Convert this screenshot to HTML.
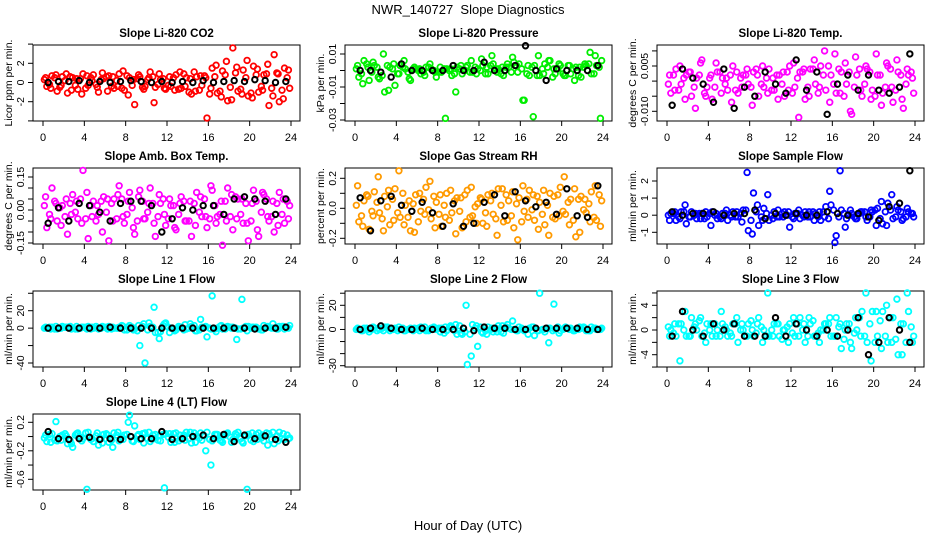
<!DOCTYPE html>
<html><head><meta charset="utf-8">
<style>
html,body{margin:0;padding:0;background:#fff;}
svg{display:block;font-family:"Liberation Sans",Arial,sans-serif;}
</style></head>
<body>
<svg id="chart" width="936" height="540" viewBox="0 0 936 540" xmlns="http://www.w3.org/2000/svg">
<rect x="0" y="0" width="936" height="540" fill="#fff"/>
<text x="468" y="14" text-anchor="middle" font-size="13">NWR_140727&#160; Slope Diagnostics</text>
<text x="468" y="530" text-anchor="middle" font-size="13">Hour of Day (UTC)</text>
</svg>
<script>
// ---- shared x data (hours) ----
const hoursA = [0.25,0.75,1.25,1.75,2.25,2.75,3.25,3.75,4.25,4.75,5.25,5.75,6.25,6.75,7.25,7.75,8.25,8.75,9.25,9.75,10.25,10.75,11.25,11.75,12.25,12.75,13.25,13.75,14.25,14.75,15.25,15.75,16.25,16.75,17.25,17.75,18.25,18.75,19.25,19.75,20.25,20.75,21.25,21.75,22.25,22.75,23.25,23.75];
const hoursB = [0.5,1.5,2.5,3.5,4.5,5.5,6.5,7.5,8.5,9.5,10.5,11.5,12.5,13.5,14.5,15.5,16.5,17.5,18.5,19.5,20.5,21.5,22.5,23.5];
const xTicks = [0,4,8,12,16,20,24];

// ---- panel 1: CO2 ----
const co2A = [0.5,-0.6,0.8,-0.3,0.9,-0.8,0.4,-1.2,0.7,0.2,-0.5,1.0,-0.9,0.6,-0.4,1.2,-1.3,0.3,0.8,-0.7,0.5,-2.1,0.9,-0.6,0.6,-0.8,1.1,-0.4,0.4,-0.9,0.7,0.5,-0.6,1.8,-1.5,2.2,-1.8,1.6,-1.2,2.3,-1.6,1.4,-0.8,1.9,-1.4,0.9,-1.7,1.3];
const co2B = [-0.4,0.7,-0.9,0.6,-1.1,0.5,-0.7,0.9,-0.3,0.8,-1.0,0.4,0.7,-0.6,0.9,-0.8,0.5,-2.3,0.6,-0.4,1.1,-0.5,0.3,-0.7,-0.4,0.8,-0.6,0.5,-1.2,0.6,-0.3,-3.7,1.5,-1.1,1.2,-1.9,3.6,-0.9,1.3,-1.4,1.7,-1.0,0.8,-2.4,2.9,-2.0,1.5,-0.6];
const co2C = [0.3,-0.2,0.5,-0.5,0.2,0.6,-0.3,0.4,-0.6,0.5,-0.2,0.3,0.6,-0.4,0.2,-0.6,0.7,-0.3,0.4,-0.5,0.3,0.6,-0.2,0.4,-0.3,0.5,-0.7,0.9,-1.0,1.1,-0.8,0.7,-1.2,0.6,-0.9,0.8,-0.5,1.0,-0.7,0.5,-1.1,0.8,-0.4,0.9,-0.6,1.0,-0.8,0.5];
const co2Black = [0,0.1,0.1,0.2,0,0.1,0,0.1,0.2,0.1,0,0.1,0,0.1,0,0.2,0,0.1,0.2,0.1,0.3,0.2,0,0.1];
// ---- panel 2: pressure ----
const presA = [0.003,-0.008,0.002,0.005,-0.004,0.010,-0.012,0.004,-0.002,0.006,-0.005,0.002,0.001,-0.003,0.004,-0.001,0.002,-0.029,0.001,-0.013,0.003,0.002,0.006,-0.002,0.007,0.002,0.009,-0.001,0.002,0.004,0.008,-0.001,-0.018,0.003,-0.028,0.009,-0.002,0.006,0.001,0.004,-0.003,0.003,-0.006,0.002,0.004,0.011,0.009,-0.029];
const presB = [-0.004,0.006,-0.006,0.003,-0.005,-0.013,0.002,-0.009,0.003,0.001,-0.006,0.001,-0.002,0.002,0.001,-0.004,-0.001,0.001,-0.003,0.002,-0.002,0.003,-0.001,0.001,0.003,-0.002,0.004,0.001,-0.003,0.002,0.005,0.004,-0.018,-0.003,0.003,-0.003,0.004,0.006,-0.002,0.003,-0.003,-0.002,0.002,-0.004,0.003,-0.002,0.003,0.006];
const presC = [0.001,-0.002,0.004,-0.001,0.002,-0.003,0.003,0.001,-0.002,0.002,-0.001,0.001,0,-0.001,0.002,0,-0.001,0.001,0,-0.002,0.001,0,-0.001,0.002,0,-0.002,0.003,0.001,-0.002,0.002,-0.001,0.003,0.001,-0.002,0.002,-0.003,0.001,0.002,-0.004,0.001,-0.002,0.003,0.001,-0.003,0.002,0.004,-0.002,0.002];
const presBlack = [0,0,-0.001,-0.004,0.004,0,0,0,0,0.003,0,0,0.005,0,0,0.003,0.015,0,-0.006,0.001,0,0,0,0.003];
// ---- panel 3: Li-820 temp ----
const tempA = [0.002,-0.003,0.005,-0.006,0.003,-0.009,0.006,-0.005,0.002,0.006,-0.004,0.001,-0.007,0.003,-0.002,0.004,-0.008,0.002,0.005,-0.004,0.001,-0.006,0.003,-0.003,0.006,-0.012,0.004,-0.005,0.007,-0.002,0.010,-0.007,0.009,-0.004,0.006,-0.010,0.008,-0.003,0.005,-0.006,0.009,-0.008,0.006,-0.002,0.007,-0.006,0.004,0.001];
const tempB = [-0.004,0.004,-0.001,0.002,-0.005,0.001,0.007,-0.002,-0.006,0.003,0.001,-0.003,0.005,-0.004,0.002,-0.001,0.003,-0.005,-0.002,0.004,-0.003,0.002,-0.005,0.005,-0.002,0.003,-0.006,0.004,-0.001,0.005,-0.003,0.002,-0.004,0.003,-0.001,-0.011,0.002,-0.005,0.004,-0.003,0.002,-0.004,0.005,-0.007,0.003,-0.009,0.002,-0.004];
const tempC = [-0.001,0.002,-0.003,0.001,0.003,-0.002,0.002,-0.004,0.001,-0.002,0.003,-0.001,0.002,-0.003,0.001,0.002,-0.002,0.004,-0.001,0.001,-0.003,0.002,-0.001,0.003,-0.004,0.001,0.003,-0.002,0.004,-0.004,0.002,0.005,-0.001,0.004,-0.005,0.003,-0.002,0.004,-0.001,0.003,-0.005,0.002,-0.002,0.004,-0.003,0.002,-0.001,0.003];
const tempBlack = [-0.008,0.004,0.001,-0.001,-0.007,0.004,-0.009,-0.002,-0.005,0.003,-0.001,-0.004,0.007,-0.003,0.003,-0.011,-0.001,0.002,-0.003,0.002,-0.003,-0.004,-0.002,0.009];
// ---- panel 4: amb box temp ----
const boxA = [0.06,-0.04,0.03,-0.07,0.05,-0.02,0.04,-0.06,0.08,-0.03,0.02,-0.10,0.05,-0.05,0.07,-0.03,0.04,-0.08,0.06,-0.04,0.03,-0.06,0.07,-0.02,0.05,-0.08,0.03,-0.05,0.04,-0.07,0.06,-0.03,0.11,-0.06,0.04,-0.05,0.07,-0.04,0.05,-0.06,0.03,-0.09,0.08,-0.03,0.04,-0.07,0.05,-0.04];
const boxB = [-0.08,0.10,-0.05,0.02,-0.11,0.07,-0.04,0.18,-0.13,0.04,-0.02,0.06,-0.14,0.05,0.11,-0.06,0.08,-0.11,0.09,-0.04,0.10,-0.12,0.03,-0.07,0.02,-0.09,0.06,-0.05,-0.12,0.08,-0.03,-0.08,0.09,-0.03,-0.16,0.10,-0.09,0.05,-0.06,-0.14,0.09,-0.12,0.07,-0.05,-0.10,0.08,-0.06,0.02];
const boxC = [0.02,-0.02,0.04,0.01,-0.03,0.03,-0.01,0.05,-0.04,0.02,-0.05,0.04,-0.01,0.03,-0.04,0.05,-0.02,0.01,-0.05,0.04,-0.01,0.03,-0.03,0.05,-0.04,0.02,-0.02,0.04,-0.05,0.03,-0.01,0.05,-0.04,0.02,-0.02,0.04,-0.03,0.06,-0.02,0.03,-0.05,0.04,-0.01,0.05,-0.03,0.03,-0.02,0.04];
const boxBlack = [-0.06,0.01,-0.05,0.03,0.02,-0.01,-0.05,0.03,0.04,0.04,0.02,-0.10,-0.04,0.01,0,0.02,0.02,-0.02,0.05,0.06,0.05,0.04,-0.02,0.05];
// ---- panel 5: gas stream RH ----
const rhA = [0.15,-0.12,0.08,-0.05,0.21,-0.15,0.12,-0.08,0.25,-0.11,0.05,-0.16,0.10,-0.04,0.18,-0.13,0.09,-0.06,0.12,-0.17,0.07,-0.09,0.14,-0.10,0.06,-0.12,0.10,-0.18,0.13,-0.08,0.11,-0.21,0.15,-0.06,0.09,-0.14,0.12,-0.18,0.08,-0.05,0.21,-0.11,0.13,-0.16,0.06,-0.09,0.15,-0.12];
const rhB = [-0.09,0.05,-0.14,0.11,-0.03,0.08,-0.11,0.13,-0.06,0.02,-0.15,0.09,-0.02,0.14,-0.07,0.04,-0.12,0.10,-0.03,0.07,-0.13,0.12,-0.05,0.03,-0.10,0.09,-0.04,0.13,-0.09,0.05,-0.13,0.07,-0.02,0.12,-0.08,0.04,-0.11,0.10,-0.07,0.14,-0.04,0.06,-0.19,0.08,-0.03,0.11,-0.08,0.05];
const rhC = [0.02,-0.05,0.09,-0.02,0.04,-0.07,0.01,0.06,-0.03,0.10,-0.06,0.03,-0.09,0.06,-0.01,0.08,-0.04,0.02,-0.08,0.05,-0.02,0.09,-0.06,0.01,0.07,-0.03,0.05,-0.07,0.02,0.09,-0.05,0.03,-0.09,0.06,-0.01,0.08,-0.04,0.02,-0.06,0.09,-0.02,0.04,-0.08,0.06,-0.01,0.03,-0.06,0.09];
const rhBlack = [0.07,-0.15,0.05,0.08,0.02,-0.02,0.04,-0.03,-0.12,0.03,-0.12,-0.10,0.04,0.09,-0.05,0.11,0.05,0.01,0.04,-0.04,0.13,-0.05,-0.06,0.15];
// ---- panel 6: sample flow ----
const sfA = [-0.3,0.2,-0.2,0.6,-0.1,0.1,-0.2,0.2,-0.6,0.1,-0.2,0.3,-0.1,0.2,-0.4,2.5,-1.1,0.6,-0.3,1.2,-0.2,0.3,-0.1,0.2,-0.2,0.3,-0.1,0.2,-0.3,0.2,-0.1,1.4,-1.6,2.6,-0.7,0.3,-0.2,0.2,-0.1,0.3,-0.6,0.8,-0.6,1.2,0.5,-0.3,0.4,0.1];
const sfB = [0.1,-0.3,0.2,-0.5,0.2,-0.2,0.1,-0.1,0.2,-0.2,0.1,-0.3,0.2,-0.1,0.3,-0.9,1.3,-0.6,0.4,-0.3,0.2,-0.1,0.2,-0.7,0.1,-0.2,0.2,-0.1,0.1,-0.3,0.5,0.6,-1.2,0.3,-0.2,0.1,-0.2,0.2,-0.3,0.2,0.4,-0.5,0.7,-0.2,0.3,-0.2,0.2,-0.1];
const sfC = [0,0.1,-0.1,0.2,-0.1,0,0.1,-0.2,0.1,0,-0.1,0.1,0,-0.1,0.1,0.3,-0.3,0.2,-0.1,0.1,0,-0.1,0.1,0,-0.1,0.1,0,-0.1,0.2,-0.1,0.2,-0.2,0.3,-0.1,0.1,0,-0.1,0.1,0.2,-0.1,0.3,-0.2,0.2,0.3,-0.1,0.2,-0.1,0.1];
const sfBlack = [0.2,0,0.1,0.1,0.2,0,0.1,0.1,0.3,-0.2,0.1,0,0.1,0,0,0.2,0.1,0,0.1,-0.1,-0.3,0.5,0.7,2.6];
// ---- panel 7: line 1 flow ----
const l1A = [1,-1,2,0,1,-1,2,1,-1,1,0,2,-1,1,0,2,1,-2,3,5,6,24,-12,5,-5,-3,1,4,5,-3,10,2,-1,-4,3,1,0,-13,33,-3,1,0,-2,2,5,-1,2,0];
const l1B = [0,1,-1,2,1,0,-1,1,2,0,-1,1,2,0,1,-2,3,-1,-20,-40,2,-5,-4,6,0,-2,1,-1,2,-3,1,-10,37,0,-1,2,1,-1,0,2,1,-1,3,1,0,2,-1,3];
const l1C = [0,1,-1,0,1,2,-1,0,1,-1,2,0,1,-1,0,3,-2,1,-3,2,-2,1,-5,3,1,-1,2,-2,0,3,-2,1,0,-1,2,-1,1,0,-1,2,0,1,-2,1,0,-1,2,1];
const l1Black = [0,0,0,0,0,0,1,0,0,0,0,0,0,0,0,0,0,0,0,0,-1,0,0,1];
// ---- panel 8: line 2 flow ----
const l2A = [1,-1,0,2,1,-1,1,0,2,-1,0,1,-1,2,0,1,-2,2,3,4,-3,20,-22,3,-2,-4,1,-2,3,4,7,-1,0,-4,2,-1,0,-11,21,-3,1,0,-1,2,1,-1,1,0];
const l2B = [0,1,-2,1,0,2,-1,1,0,-1,1,0,2,-1,1,0,1,-1,2,-4,-4,-29,4,-14,-3,2,-2,3,-3,1,0,2,-1,1,-5,30,-2,1,0,-1,2,1,0,1,-1,2,0,1];
const l2C = [0,-1,1,0,-1,1,2,0,-1,1,0,-1,1,0,-1,2,1,-3,2,-1,3,-2,-4,1,2,-1,0,1,-2,2,0,-1,1,0,2,-1,0,1,-1,2,0,1,-1,0,2,-1,1,0];
const l2Black = [0,1,3,1,0,0,1,0,0,0,1,-1,2,1,1,0,0,1,1,1,1,1,0,0];
// ---- panel 9: line 3 flow ----
const l3A = [-1,1,-5,3,-1,1,2,-2,1,-1,3,0,-1,2,1,-1,0,1,-2,6,-1,1,0,-2,2,-1,1,2,-1,-2,1,2,-1,1,0,-2,2,-1,6,-5,3,-3,4,-2,5,-4,6,-2];
const l3B = [0,-1,1,-1,2,0,-1,1,-1,0,1,-1,1,-2,0,1,-1,2,0,-1,1,-1,0,1,-1,2,-2,1,-1,0,1,-1,2,-3,1,-3,0,3,-2,3,-1,3,-2,2,-4,1,3,-1];
const l3C = [0.5,-0.5,1,0,-1,0.5,1.5,-0.5,0,1,-1,0.5,-0.5,1,0,-1,1.5,-0.5,0.5,-1,0,1,-1.5,0.5,-0.5,1,0,-1,1.5,-0.5,0,1,-1,0.5,-1.5,1,-0.5,2,-1,1,-2,1.5,-1,2,-1.5,1,-2,0.5];
const l3Black = [-1,3,0,-1,1,0,1,-1,-1,-1,2,-1,1,0,-1,0,-1,0,2,-4,-2,2,0,-2];
// ---- panel 10: line 4 (LT) flow ----
const l4A = [0.02,-0.08,0.21,-0.05,0.01,-0.10,0.04,-0.06,-0.74,-0.03,0.05,-0.09,0.02,-0.15,0.06,-0.04,0.20,-0.07,0.03,-0.09,0.06,-0.03,0.01,-0.72,0.04,-0.08,0.02,-0.05,0.06,-0.08,0.05,-0.20,-0.40,0.03,-0.06,0.04,-0.08,0.02,-0.07,-0.74,0.05,-0.04,0.02,-0.12,0.06,-0.06,0.04,-0.03];
const l4B = [-0.07,0.04,-0.06,0.02,-0.10,-0.15,0.05,-0.03,0.06,-0.07,-0.12,0.03,-0.08,0.05,-0.06,0.02,0.30,0.15,-0.04,0.05,-0.07,0.03,-0.06,0.04,-0.08,0.05,-0.03,0.06,-0.09,0.01,-0.05,0.06,-0.06,0.03,-0.08,0.05,-0.04,0.06,-0.09,0.03,-0.07,0.05,-0.06,0.04,-0.10,0.06,-0.04,-0.02];
const l4C = [-0.02,0.03,-0.05,0.0,0.04,-0.06,0.02,-0.01,0.05,-0.04,0.01,-0.03,0.04,-0.05,0.02,-0.01,0.03,-0.06,0.01,0.04,-0.03,0.02,-0.05,0.03,-0.01,0.04,-0.06,0.02,-0.03,0.05,-0.02,0.01,-0.04,0.03,-0.05,0.02,-0.01,0.04,-0.03,0.01,-0.05,0.03,-0.02,0.05,-0.04,0.01,-0.03,0.02];
const l4Black = [0.07,-0.03,-0.04,-0.03,-0.01,-0.04,-0.03,-0.04,0.0,-0.03,-0.03,0.07,-0.04,-0.03,0.0,0.02,-0.03,0.03,-0.07,0.02,-0.03,0.01,-0.04,-0.08];

// ---- tick values / labels ----
const ticks1 = [4,2,0,-2,-4];              const labels1 = ["2","0","-2"];
const ticks2 = [0.01,0,-0.01,-0.02,-0.03]; const labels2 = ["0.01","-0.01","-0.03"];
const ticks3 = [0.01,0.005,0,-0.005,-0.01]; const labels3 = ["0.005","-0.010"];
const ticks4 = [0.15,0.10,0.05,0,-0.05,-0.10,-0.15]; const labels4 = ["0.15","0.00","-0.15"];
const ticks5 = [0.2,0.1,0,-0.1,-0.2];      const labels5 = ["0.2","0.0","-0.2"];
const ticks6 = [2,1,0,-1];                 const labels6 = ["2","1","0","-1"];
const ticks7 = [40,20,0,-20,-40];          const labels7 = ["20","0","-40"];
const ticks8 = [30,20,10,0,-10,-20,-30];   const labels8 = ["20","0","-30"];
const ticks9 = [6,4,2,0,-2,-4,-6];         const labels9 = ["4","0","-4"];
const ticks10 = [0.2,0,-0.2,-0.4,-0.6];    const labels10 = ["0.2","-0.2","-0.6"];

// ---- layout (pixel config, not data) ----
const panels = [
 {name:"co2",title:"Slope Li-820 CO2",ylab:"Licor ppm per min.",col:0,row:0,color:"#ff0000",A:co2A,B:co2B,C:co2C,K:co2Black,ticks:ticks1,labels:labels1,ref:[2,63.3,-2,101.7]},
 {name:"pressure",title:"Slope Li-820 Pressure",ylab:"kPa per min.",col:1,row:0,color:"#00ee00",A:presA,B:presB,C:presC,K:presBlack,ticks:ticks2,labels:labels2,ref:[0.01,54,-0.03,120]},
 {name:"li820-temp",title:"Slope Li-820 Temp.",ylab:"degrees C per min.",col:2,row:0,color:"#ff00ff",A:tempA,B:tempB,C:tempC,K:tempBlack,ticks:ticks3,labels:labels3,ref:[0.005,66,-0.01,111.3]},
 {name:"amb-box-temp",title:"Slope Amb. Box Temp.",ylab:"degrees C per min.",col:0,row:1,color:"#ff00ff",A:boxA,B:boxB,C:boxC,K:boxBlack,ticks:ticks4,labels:labels4,ref:[0.15,177,-0.15,243]},
 {name:"gas-stream-rh",title:"Slope Gas Stream RH",ylab:"percent per min.",col:1,row:1,color:"#ff9a00",A:rhA,B:rhB,C:rhC,K:rhBlack,ticks:ticks5,labels:labels5,ref:[0.2,178.3,-0.2,238.3]},
 {name:"sample-flow",title:"Slope Sample Flow",ylab:"ml/min per min.",col:2,row:1,color:"#0000ff",A:sfA,B:sfB,C:sfC,K:sfBlack,ticks:ticks6,labels:labels6,ref:[2,181,-1,232.3]},
 {name:"line1-flow",title:"Slope Line 1 Flow",ylab:"ml/min per min.",col:0,row:2,color:"#00ffff",A:l1A,B:l1B,C:l1C,K:l1Black,ticks:ticks7,labels:labels7,ref:[20,310.7,-40,363]},
 {name:"line2-flow",title:"Slope Line 2 Flow",ylab:"ml/min per min.",col:1,row:2,color:"#00ffff",A:l2A,B:l2B,C:l2C,K:l2Black,ticks:ticks8,labels:labels8,ref:[20,305.3,-30,365.7]},
 {name:"line3-flow",title:"Slope Line 3 Flow",ylab:"ml/min per min.",col:2,row:2,color:"#00ffff",A:l3A,B:l3B,C:l3C,K:l3Black,ticks:ticks9,labels:labels9,ref:[4,305.3,-4,354.7]},
 {name:"line4-flow",title:"Slope Line 4 (LT) Flow",ylab:"ml/min per min.",col:0,row:3,color:"#00ffff",A:l4A,B:l4B,C:l4C,K:l4Black,ticks:ticks10,labels:labels10,ref:[0.2,422.3,-0.6,479.3]}
];
const rowTops = [45,168,291,414];
const NS = "http://www.w3.org/2000/svg";
const svg = document.getElementById("chart");

function mk(tag, attrs, parent){
  const e = document.createElementNS(NS, tag);
  for (const k in attrs) e.setAttribute(k, attrs[k]);
  parent.appendChild(e);
  return e;
}

panels.forEach(p => {
  const left = 33 + 312*p.col, right = left + 267;
  const top = rowTops[p.row], bottom = top + 76;
  const xs = h => left + 10 + h * 248/24;
  const k = (p.ref[1]-p.ref[3])/(p.ref[0]-p.ref[2]);
  const ys = v => p.ref[1] + (v - p.ref[0]) * k;

  const g = mk("g", {}, svg);
  
  

  const t = mk("text", {x:(left+right)/2, y:top-8, "text-anchor":"middle", "font-size":"11.5", "font-weight":"bold"}, g);
  t.textContent = p.title;
  
  

  const fr = mk("rect", {x:left, y:top, width:right-left, height:bottom-top, fill:"none", stroke:"#000", "stroke-width":"1"}, g);
  
  

  const xa = mk("g", {}, g);
  
  
  mk("line", {x1:xs(xTicks[0]), x2:xs(xTicks[xTicks.length-1]), y1:bottom, y2:bottom, stroke:"#000"}, xa);
  xTicks.forEach(v => {
    mk("line", {x1:xs(v), x2:xs(v), y1:bottom, y2:bottom+5, stroke:"#000"}, xa);
    const tl = mk("text", {x:xs(v), y:bottom+20, "text-anchor":"middle", "font-size":"11"}, xa);
    tl.textContent = String(v);
    
    
  });

  const ya = mk("g", {}, g);
  
  
  p.ticks.forEach(v => {
    mk("line", {x1:left-5, x2:left, y1:ys(v), y2:ys(v), stroke:"#000"}, ya);
  });
  p.labels.forEach(s => {
    const yy = ys(parseFloat(s));
    const tl = mk("text", {x:0, y:0, "text-anchor":"middle", "font-size":"10.5", transform:`translate(${left-9},${yy}) rotate(-90)`}, ya);
    tl.textContent = s;
    
    
  });
  const yl = mk("text", {x:0, y:0, "text-anchor":"middle", "font-size":"10.5", transform:`translate(${left-21},${(top+bottom)/2}) rotate(-90)`}, g);
  yl.textContent = p.ylab;
  
  

  const offs = [0, 0.12, -0.12];
  [p.A, p.B, p.C].forEach((arr, si) => {
    const sg = mk("g", {fill:"none", stroke:p.color, "stroke-width":"1.8"}, g);
    
    
    arr.forEach((v,i) => {
      const c = mk("circle", {cx:xs(hoursA[i]+offs[si]), cy:ys(v), r:2.8}, sg);
      
      
    });
  });
  const sK = mk("g", {fill:"none", stroke:"#000", "stroke-width":"2"}, g);
  
  
  p.K.forEach((v,i) => {
    const c = mk("circle", {cx:xs(hoursB[i]), cy:ys(v), r:2.7}, sK);
    
    
  });
});
</script>
</body></html>
